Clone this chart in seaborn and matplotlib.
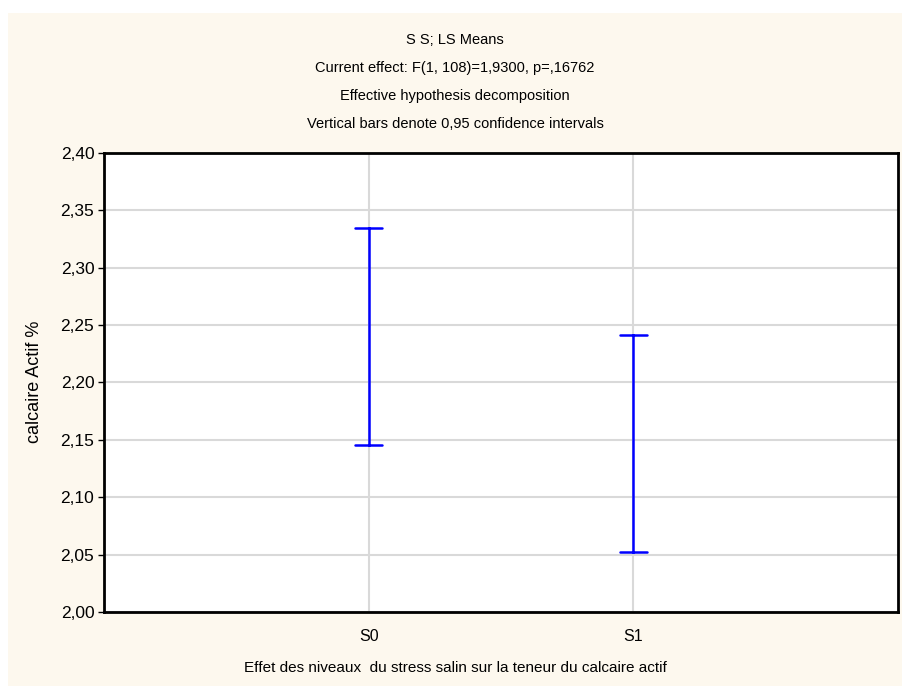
import matplotlib
matplotlib.use("Agg")
import matplotlib.pyplot as plt
from matplotlib.patches import Rectangle
from matplotlib.ticker import FuncFormatter, MultipleLocator
import pandas as pd
import seaborn as sns

# LS means with 0.95 confidence intervals
levels = ["S0", "S1"]
ci_low = [2.1455, 2.0520]
ci_high = [2.3345, 2.2410]

title_lines = [
    "S S; LS Means",
    "Current effect: F(1, 108)=1,9300, p=,16762",
    "Effective hypothesis decomposition",
    "Vertical bars denote 0,95 confidence intervals",
]
x_label = "Effet des niveaux  du stress salin sur la teneur du calcaire actif"
y_label = "calcaire Actif %"

df = pd.DataFrame({
    "level": levels * 2,
    "value": ci_low + ci_high,
})

sns.set_theme(style="white")
plt.rcParams["font.family"] = ["Liberation Sans", "DejaVu Sans"]

cream = "#FDF8EE"
fig = plt.figure(figsize=(9.03, 6.86), dpi=100, facecolor="white")
fig.patches.append(Rectangle((8 / 903, 0), 1, 1 - 13 / 686,
                             transform=fig.transFigure, facecolor=cream,
                             edgecolor="none", zorder=-10))
ax = fig.add_axes([104 / 903, 1 - 612 / 686, 794 / 903, 459 / 686])
ax.set_facecolor("white")

sns.pointplot(
    data=df, x="level", y="value", order=levels,
    estimator="mean", errorbar=("pi", 100),
    capsize=0.1, linestyle="none", marker="",
    color="#0000FF", err_kws={"linewidth": 1.8}, ax=ax,
)

ax.set_xlim(-1, 2)
ax.set_ylim(2.0, 2.4)
ax.yaxis.set_major_locator(MultipleLocator(0.05))
ax.yaxis.set_major_formatter(FuncFormatter(lambda v, _: f"{v:.2f}".replace(".", ",")))

ax.grid(True, color="#D9D9D9", linewidth=1.5)
ax.set_axisbelow(True)
for sp in ax.spines.values():
    sp.set_visible(True)
    sp.set_color("black")
    sp.set_linewidth(2)

ax.tick_params(axis="y", which="major", left=True, length=4, width=1,
               color="black", labelsize=12.5, pad=3, labelcolor="black")
ax.tick_params(axis="x", bottom=False, labelsize=11.5, pad=6, labelcolor="black")
ax.set_xlabel("")
ax.set_ylabel("")

for i, line in enumerate(title_lines):
    fig.text(455 / 903, 1 - (40 + 28 * i) / 686, line, ha="center", va="center",
             fontsize=10.5, color="black")
fig.text(455 / 903, 1 - 668 / 686, x_label, ha="center", va="center",
         fontsize=11, color="black")
fig.text(35 / 903, 1 - 382 / 686, y_label, ha="center", va="center",
         rotation=90, fontsize=13, color="black")

fig.savefig("out.png", dpi=100, facecolor=fig.get_facecolor())
